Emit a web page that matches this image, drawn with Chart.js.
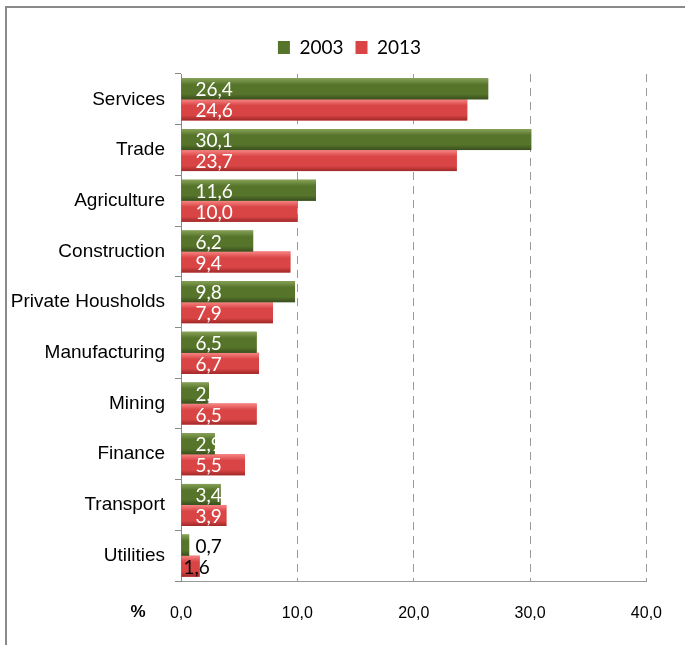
<!DOCTYPE html>
<html>
<head>
<meta charset="utf-8">
<script src="https://cdn.jsdelivr.net/npm/chart.js@4"></script>
<style>
  html, body { margin: 0; padding: 0; background: #fff; }
  #wrap { position: relative; width: 685px; height: 645px; overflow: hidden; }
  #frame { position: absolute; left: 5px; top: 6px; width: 720px; height: 700px;
           border-top: 2px solid #8a8a8a; border-left: 2px solid #8a8a8a; }
  canvas { position: absolute; left: 0; top: 0; }
</style>
</head>
<body>
<div id="wrap">
  <div id="frame"></div>
  <canvas id="chart" width="685" height="645"></canvas>
</div>
<script>
const categories = ["Services", "Trade", "Agriculture", "Construction", "Private Housholds",
  "Manufacturing", "Mining", "Finance", "Transport", "Utilities"];
const values2003 = [26.4, 30.1, 11.6, 6.2, 9.8, 6.5, 2.4, 2.9, 3.4, 0.7];
const values2013 = [24.6, 23.7, 10.0, 9.4, 7.9, 6.7, 6.5, 5.5, 3.9, 1.6];
const xTicks = [0, 10, 20, 30, 40];

const fmt = (v) => v.toFixed(1).replace(".", ",");

const shades = {
  "2003": ["#86a257", "#56742a", "#394e1e"],
  "2013": ["#f88484", "#d94545", "#a02828"]
};

// glossy overlay on each bar, drawn from the bar elements' own geometry
const barShading = {
  id: "barShading",
  afterDatasetDraw(chart, args) {
    const ctx = chart.ctx;
    const s = shades[chart.data.datasets[args.index].label];
    args.meta.data.forEach(bar => {
      const top = bar.y - bar.height / 2, h = bar.height;
      const g = ctx.createLinearGradient(0, top, 0, top + h);
      g.addColorStop(0, s[0]);
      g.addColorStop(0.3, s[1]);
      g.addColorStop(0.75, s[1]);
      g.addColorStop(1, s[2]);
      ctx.save();
      ctx.fillStyle = g;
      ctx.fillRect(bar.base, top, bar.x - bar.base, h);
      ctx.restore();
    });
  }
};

// legend sits right of the canvas centre and a little higher in the original
const legendShift = {
  id: "legendShift",
  afterLayout(chart) {
    const lg = chart.legend;
    lg.left += 21; lg.right += 21;
    lg.top -= 7; lg.bottom -= 7;
  }
};

const valueLabels = {
  id: "valueLabels",
  afterDatasetsDraw(chart) {
    const ctx = chart.ctx;
    ctx.save();
    ctx.font = "19px Lato, 'Noto Sans', sans-serif";
    ctx.textBaseline = "middle";
    ctx.textAlign = "left";
    chart.data.datasets.forEach((ds, i) => {
      chart.getDatasetMeta(i).data.forEach((bar, j) => {
        const v = ds.data[j];
        ctx.fillStyle = v < 2 ? "#000" : "#fff";
        const dx = (v < 2 && i === 1) ? 2 : 14;
        ctx.fillText(fmt(v), bar.base + dx, bar.y + 1.5);
      });
    });
    // unit marker left of the x tick labels
    ctx.font = "bold 17px 'Liberation Sans', Arial, sans-serif";
    ctx.fillStyle = "#000";
    ctx.textAlign = "center";
    ctx.fillText("%", 138, chart.chartArea.bottom + 31);
    ctx.restore();
  }
};

new Chart(document.getElementById("chart"), {
  type: "bar",
  data: {
    labels: categories,
    datasets: [
      { label: "2003", data: values2003, backgroundColor: shades["2003"][1] },
      { label: "2013", data: values2013, backgroundColor: shades["2013"][1] }
    ]
  },
  options: {
    indexAxis: "y",
    responsive: false,
    animation: false,
    events: [],
    datasets: { bar: { categoryPercentage: 0.83, barPercentage: 1 } },
    layout: { padding: { left: 8, right: 36, top: 33, bottom: 0 } },
    plugins: {
      legend: {
        position: "top",
        labels: {
          boxWidth: 12, boxHeight: 13, padding: 12, color: "#000",
          font: { family: "Lato, 'Noto Sans', sans-serif", size: 19 }
        }
      },
      tooltip: { enabled: false }
    },
    scales: {
      x: {
        min: 0, max: 40,
        afterBuildTicks: (axis) => { axis.ticks = xTicks.map(v => ({ value: v })); },
        afterFit: (axis) => { axis.height = 64; },
        grid: { color: "#999", lineWidth: 1, drawTicks: false },
        border: { color: "#999", dash: [8, 6] },
        ticks: {
          padding: 23, color: "#000",
          font: { family: "'Liberation Sans', Arial, sans-serif", size: 16 },
          callback: (v) => fmt(v)
        }
      },
      y: {
        afterFit: (axis) => { axis.width = 173; },
        grid: { drawOnChartArea: false, color: "#888", tickLength: 6, offset: true },
        border: { color: "#888" },
        ticks: {
          padding: 10, color: "#000",
          font: { family: "'Liberation Sans', Arial, sans-serif", size: 19 }
        }
      }
    }
  },
  plugins: [barShading, legendShift, valueLabels]
});
</script>
</body>
</html>
